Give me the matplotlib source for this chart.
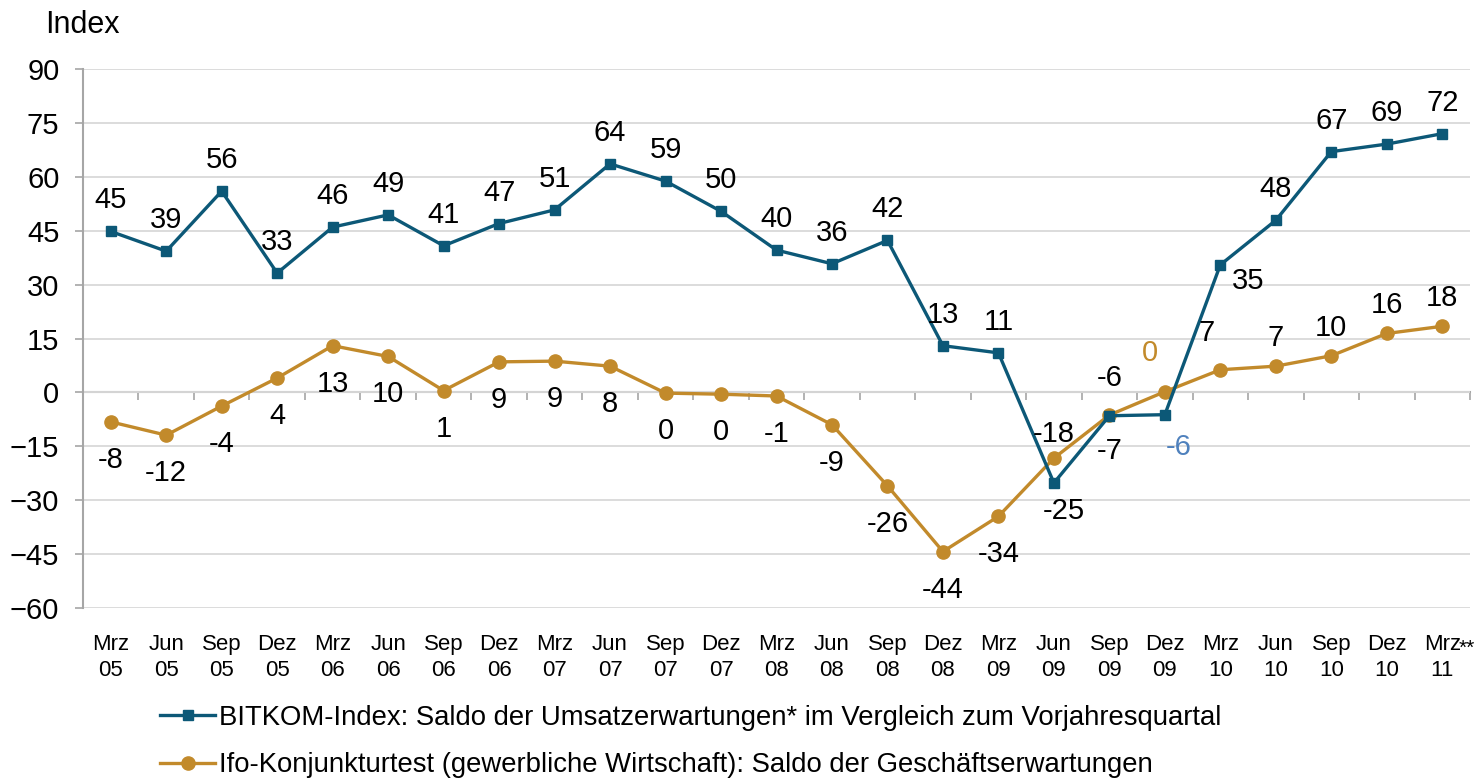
import matplotlib
matplotlib.use("Agg")
import matplotlib.pyplot as plt

plt.rcParams['font.family'] = ['Liberation Sans', 'DejaVu Sans']

# Data
months = ['Mrz', 'Jun', 'Sep', 'Dez'] * 6 + ['Mrz']
years = ['05'] * 4 + ['06'] * 4 + ['07'] * 4 + ['08'] * 4 + ['09'] * 4 + ['10'] * 4 + ['11']
bitkom = [44.8, 39.3, 56.0, 33.2, 46.0, 49.4, 40.8, 47.0, 50.8, 63.6, 58.8, 50.4, 39.6,
          35.8, 42.3, 13.0, 11.0, -25.2, -6.5, -6.2, 35.5, 47.9, 67.0, 69.1, 72.0]
bitkom_labels = [45, 39, 56, 33, 46, 49, 41, 47, 51, 64, 59, 50, 40,
                 36, 42, 13, 11, -25, -7, -6, 35, 48, 67, 69, 72]
ifo = [-8.2, -11.9, -3.8, 4.0, 13.0, 10.0, 0.5, 8.5, 8.7, 7.3, -0.2, -0.5, -1.0,
       -9.0, -26.0, -44.3, -34.5, -18.3, -6.3, 0.2, 6.3, 7.3, 10.2, 16.4, 18.4]
ifo_labels = [-8, -12, -4, 4, 13, 10, 1, 9, 9, 8, 0, 0, -1,
              -9, -26, -44, -34, -18, -6, 0, 7, 7, 10, 16, 18]

name_bitkom = 'BITKOM-Index: Saldo der Umsatzerwartungen* im Vergleich zum Vorjahresquartal'
name_ifo = 'Ifo-Konjunkturtest (gewerbliche Wirtschaft): Saldo der Geschäftserwartungen'

# Colors
c_bitkom = '#0C5877'
c_ifo = '#C28A2B'
c_grid = '#D9D9D9'
c_axis = '#A6A6A6'

# label offsets in pixels (dx, dy), special cases only
bitkom_off = {17: (10, -28), 18: (0, -35), 19: (14, -32), 20: (28, -16)}
ifo_off = {17: (0, 24), 18: (0, 37), 19: (-15, 39), 20: (-14, 37),
           21: (0, 28), 22: (0, 28), 23: (0, 28), 24: (0, 28)}
label_colors = {('b', 19): '#4F81BD', ('i', 19): c_ifo}

fig = plt.figure(figsize=(14.83, 7.79), dpi=100)
ax = fig.add_axes([83/1483, 1 - 608/779, (1470 - 83)/1483, (608 - 69)/779])

x = list(range(len(months)))
ax.plot(x, bitkom, color=c_bitkom, lw=2.4, marker='s', ms=6.5, zorder=4, label=name_bitkom)
ax.plot(x, ifo, color=c_ifo, lw=2.4, marker='o', ms=9.5, zorder=3, label=name_ifo)

for i, v in enumerate(bitkom):
    dx, dy = bitkom_off.get(i, (0, 31))
    ax.annotate(str(bitkom_labels[i]), (i, v), xytext=(dx, dy), textcoords='offset pixels',
                ha='center', va='center', fontsize=21,
                color=label_colors.get(('b', i), 'black'), zorder=5)
for i, v in enumerate(ifo):
    dx, dy = ifo_off.get(i, (0, -38))
    ax.annotate(str(ifo_labels[i]), (i, v), xytext=(dx, dy), textcoords='offset pixels',
                ha='center', va='center', fontsize=21,
                color=label_colors.get(('i', i), 'black'), zorder=5)

ax.set_xlim(-0.5, len(months) - 0.5)
ax.set_ylim(-60, 90)
ax.set_yticks(range(-60, 91, 15))
ax.grid(axis='y', color=c_grid, lw=1.3, zorder=0)
ax.set_axisbelow(True)

for s in ['top', 'right', 'bottom']:
    ax.spines[s].set_visible(False)
ax.spines['left'].set_color(c_axis)
ax.spines['left'].set_linewidth(1.5)
ax.tick_params(axis='y', colors=c_axis, length=6, width=1.2, pad=11,
               labelsize=21, labelcolor='black')

ax.set_xticks(x)
ax.set_xticklabels([m + '\n' + y for m, y in zip(months, years)], fontsize=16, linespacing=1.3)
ax.tick_params(axis='x', length=0, pad=19)

# zero line with category-boundary ticks
sec = ax.secondary_xaxis(60/150)
sec.set_xticks([i - 0.5 for i in range(len(months) + 1)])
sec.set_xticklabels([])
sec.tick_params(axis='x', direction='out', length=6, width=1.2, color=c_axis)
sec.spines['bottom'].set_color(c_axis)
sec.spines['bottom'].set_linewidth(1.5)

ax.annotate('**', xy=(len(months) - 1, 0), xycoords=('data', 'axes fraction'),
            xytext=(24, -40), textcoords='offset pixels', ha='center', va='center', fontsize=15)

fig.text(45/1483, 1 - 33/779, 'Index', fontsize=22, va='baseline', ha='left')

fig.legend(loc='upper left', bbox_to_anchor=(160/1483, 1 - 705/779), frameon=False,
           fontsize=19.8, handlelength=2.0, handletextpad=0.15, labelspacing=0.78,
           borderpad=0, borderaxespad=0)

fig.savefig('out.png', dpi=100)
